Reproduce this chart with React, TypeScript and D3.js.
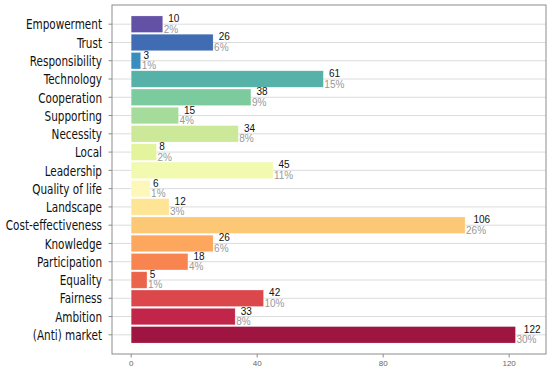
import React from 'react';
import * as d3 from 'd3';

// topics, top to bottom
const categories = [
  'Empowerment', 'Trust', 'Responsibility', 'Technology', 'Cooperation',
  'Supporting', 'Necessity', 'Local', 'Leadership', 'Quality of life',
  'Landscape', 'Cost-effectiveness', 'Knowledge', 'Participation',
  'Equality', 'Fairness', 'Ambition', '(Anti) market',
];
const counts = [10, 26, 3, 61, 38, 15, 34, 8, 45, 6, 12, 106, 26, 18, 5, 42, 33, 122];
const percents = ['2%', '6%', '1%', '15%', '9%', '4%', '8%', '2%', '11%', '1%', '3%', '26%', '6%', '4%', '1%', '10%', '8%', '30%'];
const colors = [
  '#6351a5', '#3f6cb3', '#3a8ebf', '#56b1a8', '#7bcb9f', '#a6dc9b',
  '#cce99a', '#e4f49c', '#f2fab0', '#fdf7b9', '#fee596', '#fdc875',
  '#fca65e', '#f88450', '#ea6549', '#dc474b', '#c2254a', '#9e1541',
];
const xTicks = [0, 40, 80, 120];

const W = 550, H = 370;
const panel = {left: 112, right: 546, top: 5, bottom: 354};

const App = () => {
  const x = d3.scaleLinear().domain([-6.1, 131.7]).range([panel.left, panel.right]);
  const y = d3.scaleBand<string>()
    .domain(categories)
    .range([panel.top, panel.bottom])
    .paddingInner(0.1)
    .paddingOuter(0.6);
  const step = y.step();
  const center = (c: string) => (y(c) as number) + y.bandwidth() / 2;
  // no narrow font installed, so squeeze the condensed one a bit
  const labelFont = '"DejaVu Sans Condensed", "DejaVu Sans", sans-serif';

  return (
    <svg width={W} height={H} style={{position: 'absolute', left: 0, top: 0, background: '#fff'}}>
      {/* horizontal grid */}
      {categories.map(c => (
        <line key={'g' + c} x1={panel.left} x2={panel.right} y1={center(c)} y2={center(c)}
          stroke="#dcdcdc" strokeWidth={1} />
      ))}
      {/* bars */}
      {categories.map((c, i) => (
        <rect key={'b' + c} x={x(0)} y={center(c) - step * 0.45} width={x(counts[i]) - x(0)}
          height={step * 0.9} fill={colors[i]} stroke="#fff" strokeOpacity={0.35} strokeWidth={0.6} />
      ))}
      {/* value labels */}
      {categories.map((c, i) => {
        const v = String(counts[i]);
        const w = v.length * 5.6;
        return (
          <g key={'l' + c} fontFamily='"Liberation Sans", Arial, sans-serif' fontSize={10}>
            <text x={x(counts[i]) + w * 0.5} y={center(c) - 2} fill="#111">{v}</text>
            <text x={x(counts[i]) + 1} y={center(c) + 8.5} fill="#999">{percents[i]}</text>
          </g>
        );
      })}
      {/* panel border */}
      <rect x={panel.left} y={panel.top} width={panel.right - panel.left} height={panel.bottom - panel.top}
        fill="none" stroke="#8c8c8c" strokeWidth={1} />
      {/* y axis */}
      {categories.map(c => (
        <g key={'y' + c}>
          <line x1={panel.left - 3.5} x2={panel.left} y1={center(c)} y2={center(c)} stroke="#8c8c8c" />
          <text transform={`translate(${panel.left - 10},${center(c)}) scale(0.8,1)`} dy="0.36em"
            textAnchor="end" fontFamily={labelFont} fontSize={14.5} fill="#111">{c}</text>
        </g>
      ))}
      {/* x axis */}
      {xTicks.map(t => (
        <g key={'x' + t}>
          <line x1={x(t)} x2={x(t)} y1={panel.bottom} y2={panel.bottom + 3.5} stroke="#8c8c8c" />
          <text x={x(t)} y={panel.bottom + 12} textAnchor="middle"
            fontFamily='"Liberation Sans", Arial, sans-serif' fontSize={8} fill="#666">{t}</text>
        </g>
      ))}
    </svg>
  );
};

export default App;
